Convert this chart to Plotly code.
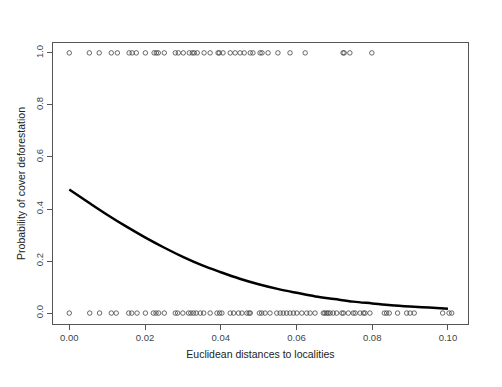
import plotly.graph_objects as go

# Observations with deforestation (y = 1)
x_one = [0.0, 0.0053, 0.0079, 0.0111, 0.0127, 0.0158, 0.0166, 0.0177, 0.0201, 0.0224,
         0.0230, 0.0235, 0.0251, 0.0280, 0.0288, 0.0301, 0.0317, 0.0325, 0.0330, 0.0338,
         0.0356, 0.0372, 0.0393, 0.0396, 0.0406, 0.0425, 0.0438, 0.0451, 0.0462, 0.0478,
         0.0485, 0.0504, 0.0509, 0.0525, 0.0551, 0.0583, 0.0623, 0.0723, 0.0726, 0.0741,
         0.0799]
# Observations without deforestation (y = 0)
x_zero = [0.0, 0.0054, 0.0080, 0.0111, 0.0124, 0.0157, 0.0165, 0.0179, 0.0201, 0.0222,
          0.0229, 0.0236, 0.0251, 0.0280, 0.0286, 0.0300, 0.0315, 0.0321, 0.0328, 0.0335,
          0.0346, 0.0355, 0.0372, 0.0390, 0.0397, 0.0403, 0.0425, 0.0434, 0.0447, 0.0456,
          0.0469, 0.0475, 0.0478, 0.0502, 0.0508, 0.0517, 0.0530, 0.0548, 0.0557, 0.0565,
          0.0574, 0.0583, 0.0592, 0.0601, 0.0614, 0.0627, 0.0636, 0.0649, 0.0671, 0.0675,
          0.0680, 0.0684, 0.0689, 0.0697, 0.0706, 0.0720, 0.0724, 0.0737, 0.0750, 0.0755,
          0.0768, 0.0777, 0.0781, 0.0794, 0.0832, 0.0838, 0.0845, 0.0867, 0.0891, 0.0900,
          0.0911, 0.0986, 0.1003, 0.1010]

# Fitted probability curve
curve_x = [0.0, 0.005, 0.01, 0.015, 0.02, 0.025, 0.03, 0.035, 0.04, 0.045, 0.05,
           0.055, 0.06, 0.065, 0.07, 0.075, 0.08, 0.085, 0.09, 0.095, 0.10]
curve_y = [0.475, 0.426, 0.378, 0.333, 0.291, 0.252, 0.216, 0.184, 0.157, 0.132, 0.111,
           0.093, 0.078, 0.064, 0.054, 0.044, 0.037, 0.030, 0.025, 0.021, 0.017]

x_ticks = [0.0, 0.02, 0.04, 0.06, 0.08, 0.10]
x_tick_labels = ["0.00", "0.02", "0.04", "0.06", "0.08", "0.10"]
y_ticks = [0.0, 0.2, 0.4, 0.6, 0.8, 1.0]
y_tick_labels = ["0.0", "0.2", "0.4", "0.6", "0.8", "1.0"]

FONT = "Liberation Sans Narrow, Arial Narrow, Liberation Sans, Arial, sans-serif"
marker = dict(symbol="circle-open", size=4.5, color="#444444", line=dict(width=0.8, color="#444444"))

fig = go.Figure()
fig.add_trace(go.Scatter(x=x_one, y=[1] * len(x_one), mode="markers", marker=marker,
                         showlegend=False, hoverinfo="x"))
fig.add_trace(go.Scatter(x=x_zero, y=[0] * len(x_zero), mode="markers", marker=marker,
                         showlegend=False, hoverinfo="x"))
fig.add_trace(go.Scatter(x=curve_x, y=curve_y, mode="lines", line=dict(color="black", width=2.5, shape="spline"),
                         showlegend=False))

axis_common = dict(showgrid=False, zeroline=False, showline=True, mirror=True,
                   linecolor="#555555", linewidth=1, ticks="outside", ticklen=5,
                   tickcolor="#555555", tickfont=dict(family=FONT, size=9.5, color="#444444"))

# page body has an 8px default margin, so the figure is shrunk by 8px on the left/top
fig.update_layout(
    width=494, height=379,
    margin=dict(l=45, r=34, t=35, b=63),
    paper_bgcolor="white", plot_bgcolor="white",
    font=dict(family=FONT, color="#222222"),
    xaxis=dict(range=[-0.0043, 0.1053], tickvals=x_ticks, ticktext=x_tick_labels,
               title=dict(text="Euclidean distances to localities", font=dict(family=FONT, size=10.5, color="#222222"),
                          standoff=8),
               **axis_common),
    yaxis=dict(range=[-0.042, 1.038], tickvals=y_ticks, ticktext=y_tick_labels, tickangle=-90,
               title=dict(text="Probability of cover deforestation", font=dict(family=FONT, size=10.5, color="#222222"),
                          standoff=6),
               **axis_common),
)

fig.write_html("out.html")
